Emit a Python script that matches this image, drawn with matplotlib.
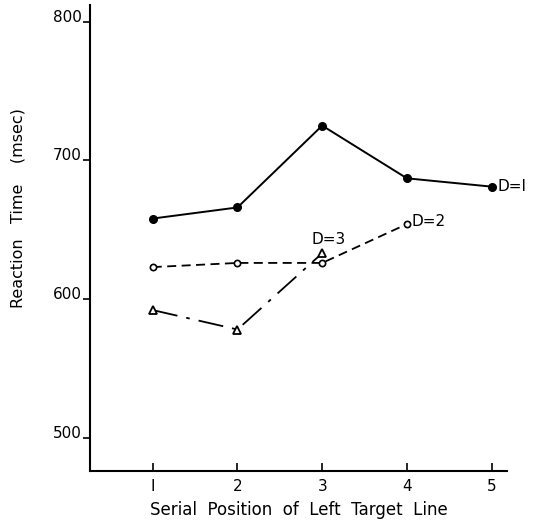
import matplotlib
matplotlib.use("Agg")
import matplotlib.pyplot as plt

# serial position of left target line
positions = [1, 2, 3, 4, 5]

# reaction times (msec)
rt_d1 = [658, 666, 725, 687, 681]
rt_d2 = [623, 626, 626, 654]
rt_d3 = [592, 578, 633]

y_ticks = [500, 600, 700, 800]
x_ticks = [1, 2, 3, 4, 5]
x_tick_labels = ["I", "2", "3", "4", "5"]

plt.rcParams['font.family'] = ['DejaVu Sans']

fig = plt.figure(figsize=(5.33, 5.26), dpi=100)
ax = fig.add_axes([0.169, 0.1046, 0.782, 0.886])

# D = 1, solid line with filled dots
ax.plot(positions, rt_d1, color='black', lw=1.4, marker='o', ms=5.5,
        mfc='black', mec='black')
# D = 2, dashed line with open circles
ax.plot(positions[:len(rt_d2)], rt_d2, color='black', lw=1.3,
        linestyle=(0, (5, 3)), marker='o', ms=4.5, mfc='white',
        mec='black', mew=1.2)
# D = 3, dash-dot line with open triangles
ax.plot(positions[:len(rt_d3)], rt_d3, color='black', lw=1.3,
        linestyle=(0, (14, 5, 2, 5)), marker='^', ms=6, mfc='white',
        mec='black', mew=1.3)

ax.text(positions[4] + 0.07, rt_d1[4], "D=I", fontsize=11,
        va='center', ha='left')
ax.text(positions[3] + 0.05, rt_d2[3] + 2, "D=2", fontsize=11,
        va='center', ha='left')
ax.text(positions[2] + 0.07, 643, "D=3", fontsize=11,
        va='center', ha='center')

ax.set_xlim(0.26, 5.18)
ax.set_ylim(476, 812)

ax.set_yticks(y_ticks)
ax.set_xticks(x_ticks)
ax.set_xticklabels(x_tick_labels)

for side in ['top', 'right']:
    ax.spines[side].set_visible(False)
for side in ['left', 'bottom']:
    ax.spines[side].set_linewidth(1.5)

ax.tick_params(axis='y', direction='out', length=5, width=1.2,
               labelsize=11, pad=1)
ax.tick_params(axis='x', direction='in', length=6, width=1.2,
               labelsize=11, pad=6)
for lab in ax.get_yticklabels():
    lab.set_va('baseline')

ax.set_ylabel("Reaction   Time    (msec)", fontsize=11.5)
ax.yaxis.set_label_coords(-0.155, 0.564)
ax.set_xlabel("Serial  Position  of  Left  Target  Line", fontsize=12,
              labelpad=5)

fig.savefig("out.png", dpi=100)
